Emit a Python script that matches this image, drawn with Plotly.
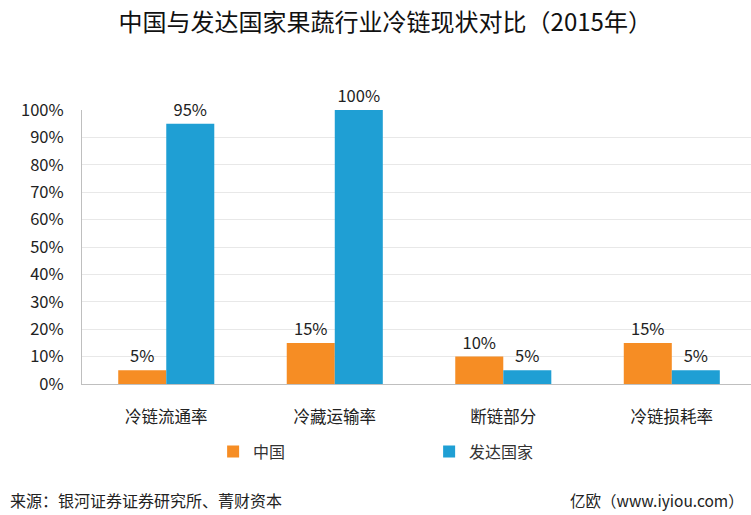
import plotly.graph_objects as go

categories = ["冷链流通率", "冷藏运输率", "断链部分", "冷链损耗率"]
china = [5, 15, 10, 15]
developed = [95, 100, 5, 5]
y_ticks = [0, 10, 20, 30, 40, 50, 60, 70, 80, 90, 100]

FONT = "Noto Sans CJK SC, Microsoft YaHei, sans-serif"

fig = go.Figure()

fig.add_trace(
    go.Bar(
        x=categories,
        y=china,
        name="中国",
        marker=dict(color="#F68D24", line=dict(width=0)),
        text=[f"{v}%" for v in china],
        textposition="outside",
        textfont=dict(size=16.5, color="#222222"),
        cliponaxis=False,
    )
)
fig.add_trace(
    go.Bar(
        x=categories,
        y=developed,
        name="发达国家",
        marker=dict(color="#1F9FD4", line=dict(width=0)),
        text=[f"{v}%" for v in developed],
        textposition="outside",
        textfont=dict(size=16.5, color="#222222"),
        cliponaxis=False,
    )
)

fig.update_layout(
    width=751,
    height=515,
    margin=dict(l=82, r=0, t=110, b=131, autoexpand=False),
    paper_bgcolor="white",
    plot_bgcolor="white",
    font=dict(family=FONT, size=16, color="#222222"),
    title=dict(
        text="中国与发达国家果蔬行业冷链现状对比（2015年）",
        x=0.513,
        xanchor="center",
        y=0.957,
        yanchor="middle",
        font=dict(size=24, color="#111111"),
    ),
    barmode="group",
    bargap=0.43,
    bargroupgap=0,
    showlegend=True,
    legend=dict(
        orientation="h",
        x=0.196,
        xanchor="left",
        y=-0.185,
        yanchor="top",
        entrywidth=171,
        entrywidthmode="pixels",
        itemwidth=30,
        font=dict(size=16, color="#333333"),
    ),
)

fig.update_xaxes(
    range=[-0.5, 3.47],
    showline=True,
    linecolor="#BFBFBF",
    linewidth=1,
    ticks="",
    ticklabelstandoff=18,
    tickfont=dict(size=16.5, color="#222222"),
    showgrid=False,
)
fig.update_yaxes(
    range=[0, 100],
    tickvals=y_ticks,
    ticktext=[f"{v}%" for v in y_ticks],
    showline=True,
    linecolor="#BFBFBF",
    linewidth=1,
    showgrid=True,
    gridcolor="#E8E8E8",
    gridwidth=1,
    zeroline=False,
    ticks="",
    ticklabelstandoff=14,
    tickfont=dict(size=16.5, color="#222222"),
)

fig.add_annotation(
    text="来源：银河证券证券研究所、菁财资本",
    xref="paper", yref="paper",
    x=-74 / 669, y=-116 / 274,
    xanchor="left", yanchor="middle",
    showarrow=False,
    font=dict(size=16, color="#222222"),
)
fig.add_annotation(
    text="亿欧（www.iyiou.com）",
    xref="paper", yref="paper",
    x=(746 - 82) / 669, y=-116 / 274,
    xanchor="right", yanchor="middle",
    showarrow=False,
    font=dict(size=15.5, color="#222222"),
)

# page body has a default 8px margin, drop it so the figure sits at 0,0
fig.write_html(
    "out.html",
    config={"displayModeBar": False},
    post_script="document.body.style.margin='0';",
)
